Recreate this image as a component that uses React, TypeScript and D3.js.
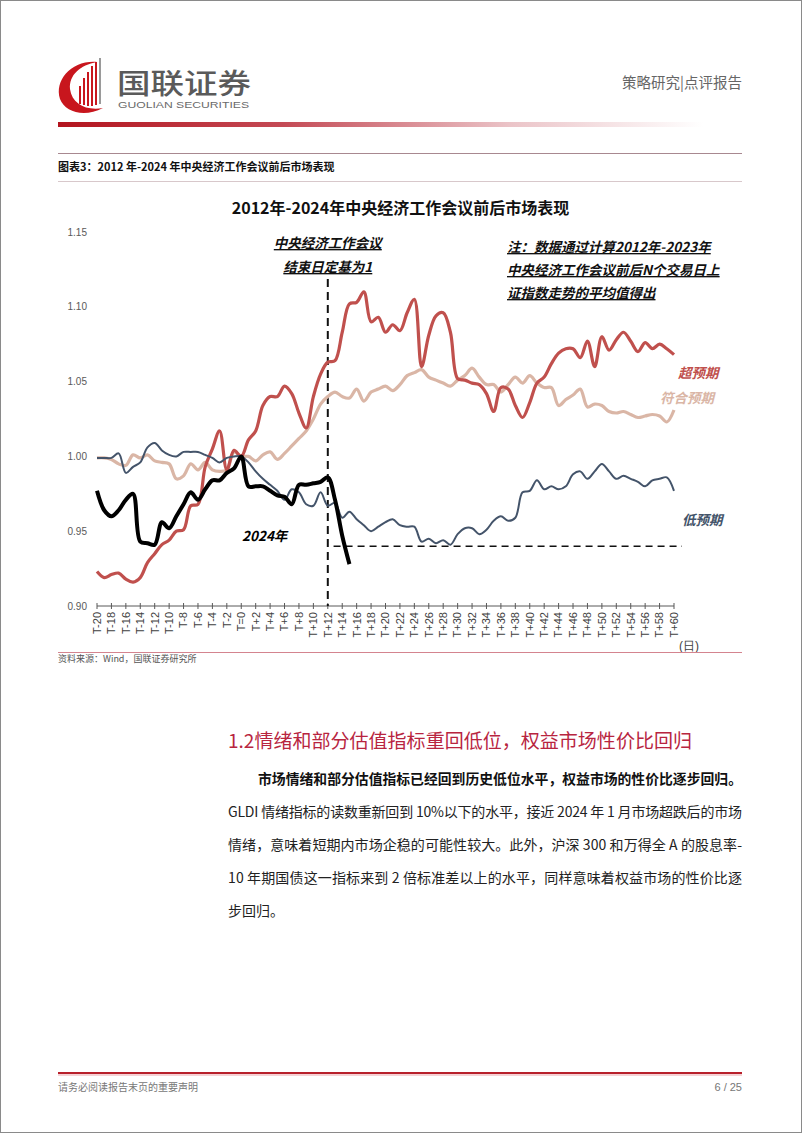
import React from "react";
import * as d3 from "d3";

const tickLabels = ["T-20","T-18","T-16","T-14","T-12","T-10","T-8","T-6","T-4","T-2","T=0","T+2","T+4","T+6","T+8","T+10","T+12","T+14","T+16","T+18","T+20","T+22","T+24","T+26","T+28","T+30","T+32","T+34","T+36","T+38","T+40","T+42","T+44","T+46","T+48","T+50","T+52","T+54","T+56","T+58","T+60"];
const tickDays = [-20,-18,-16,-14,-12,-10,-8,-6,-4,-2,0,2,4,6,8,10,12,14,16,18,20,22,24,26,28,30,32,34,36,38,40,42,44,46,48,50,52,54,56,58,60];
const yTicks = [0.90, 0.95, 1.00, 1.05, 1.10, 1.15];
const firstDay = -20;

const exceed = [0.923,0.919,0.921,0.922,0.918,0.916,0.919,0.929,0.935,0.941,0.944,0.950,0.951,0.967,0.968,0.993,1.005,1.017,0.991,1.004,1.000,
1.011,1.017,1.034,1.040,1.040,1.047,1.042,1.029,1.019,1.040,1.055,1.063,1.064,1.083,1.102,1.103,1.110,1.090,1.093,1.083,
1.088,1.084,1.096,1.105,1.060,1.081,1.094,1.096,1.083,1.052,1.051,1.049,1.048,1.042,1.030,1.046,1.045,1.034,1.026,1.036,
1.049,1.053,1.062,1.069,1.072,1.072,1.066,1.077,1.060,1.080,1.071,1.078,1.083,1.077,1.070,1.076,1.072,1.075,1.072,1.068];

const meet = [0.999,0.999,0.998,0.995,0.994,1.001,0.999,1.001,0.997,0.996,0.995,0.985,0.987,0.995,0.991,0.996,0.991,0.990,0.991,1.003,1.000,
1.000,0.997,1.001,1.003,0.998,1.002,1.007,1.012,1.017,1.025,1.035,1.040,1.043,1.040,1.039,1.045,1.037,1.043,1.045,1.047,
1.044,1.048,1.054,1.056,1.058,1.053,1.051,1.049,1.047,1.051,1.054,1.059,1.053,1.048,1.048,1.043,1.048,1.053,1.049,1.054,
1.049,1.046,1.046,1.034,1.038,1.041,1.045,1.033,1.035,1.034,1.030,1.029,1.030,1.028,1.026,1.027,1.028,1.027,1.023,1.031];

const below = [0.999,0.999,0.999,1.002,0.989,0.993,0.996,1.006,1.009,1.004,1.001,1.000,1.003,1.003,1.003,1.001,0.999,0.996,0.999,1.000,1.000,
0.996,0.990,0.985,0.981,0.977,0.971,0.978,0.976,0.968,0.967,0.976,0.967,0.969,0.959,0.963,0.958,0.954,0.950,0.953,0.956,
0.958,0.954,0.953,0.953,0.943,0.945,0.942,0.944,0.941,0.948,0.952,0.952,0.948,0.951,0.957,0.960,0.957,0.959,0.976,0.977,
0.984,0.978,0.980,0.978,0.980,0.988,0.990,0.985,0.990,0.995,0.990,0.985,0.987,0.985,0.983,0.980,0.984,0.985,0.986,0.977];

const y2024 = [0.977,0.964,0.960,0.964,0.971,0.975,0.943,0.942,0.941,0.956,0.952,0.960,0.968,0.976,0.971,0.978,0.984,0.984,0.989,0.992,1.000,
0.980,0.980,0.980,0.977,0.974,0.973,0.968,0.981,0.981,0.982,0.983,0.986,0.971,0.947,0.928];

const baseDay = 12;
const refLevel = 0.94;

const bodyLines = [
  "市场情绪和部分估值指标已经回到历史低位水平，权益市场的性价比逐步回归。",
  "GLDI 情绪指标的读数重新回到 10%以下的水平，接近 2024 年 1 月市场超跌后的市场",
  "情绪，意味着短期内市场企稳的可能性较大。此外，沪深 300 和万得全 A 的股息率-",
  "10 年期国债这一指标来到 2 倍标准差以上的水平，同样意味着权益市场的性价比逐",
  "步回归。",
];

const CJK = "'Noto Sans CJK SC', 'Noto Sans', sans-serif";
const LAT = "'Liberation Sans', Arial, sans-serif";

export default function App() {
  const x = d3.scaleLinear().domain([-20, 60]).range([97, 674]);
  const y = d3.scaleLinear().domain([0.9, 1.15]).range([606, 232]);
  const line = d3
    .line<number>()
    .x((_, i) => x(firstDay + i))
    .y((v) => y(v))
    .curve(d3.curveCatmullRom.alpha(0.5));

  const red = "#C0504D";
  const tan = "#DAB6A6";
  const slate = "#44546A";

  return (
    <svg width={802} height={1133} style={{ position: "absolute", left: 0, top: 0, background: "#fff" }}>
      <defs>
        <linearGradient id="hdr" x1="0" x2="1" y1="0" y2="0">
          <stop offset="0" stopColor="#B3141E" />
          <stop offset="0.35" stopColor="#C44A55" />
          <stop offset="0.7" stopColor="#EBC4C8" />
          <stop offset="1" stopColor="#FFFFFF" />
        </linearGradient>
      </defs>
      <rect x={0.5} y={0.5} width={801} height={1132} fill="#fff" stroke="#8a8a8a" />

      {/* Logo */}
      <g>
        <path d="M97 62 C72 60 54 80 60 99 C65 112 84 118 103 108 C86 111 72 104 70 89 C69 75 80 65 97 62 Z" fill="#C8161D" />
        <path d="M80 104 L80 86 M84 105 L84 78 M88 106 L88 72 M92 106 L92 66 M96 105 L96 62" stroke="#C8161D" strokeWidth={2} />
        <path d="M100 104 L100 58" stroke="#9a9a9a" strokeWidth={2} />
      </g>
      <text x={117} y={94} fontFamily={CJK} fontSize={28} fontWeight={500} fill="#5a5a5a" textLength={134} lengthAdjust="spacingAndGlyphs">国联证券</text>
      <text x={118} y={108} fontFamily={LAT} fontSize={8.5} fill="#6a6a6a" textLength={131} lengthAdjust="spacingAndGlyphs">GUOLIAN SECURITIES</text>
      <text x={742} y={88} textAnchor="end" fontFamily={CJK} fontSize={14.5} fill="#666">策略研究|点评报告</text>
      <rect x={58} y={122} width={645} height={5} fill="url(#hdr)" />

      {/* caption */}
      <line x1={58} x2={742} y1={153.5} y2={153.5} stroke="#A88890" strokeWidth={1} />
      <text x={58} y={171} fontFamily={CJK} fontSize={11} fontWeight={700} fill="#111">图表3：2012 年-2024 年中央经济工作会议前后市场表现</text>
      <line x1={58} x2={742} y1={181.5} y2={181.5} stroke="#D8C8CB" strokeWidth={1} />

      {/* chart title */}
      <text x={400.5} y={214} textAnchor="middle" fontFamily={CJK} fontSize={16} fontWeight={700} fill="#111">2012年-2024年中央经济工作会议前后市场表现</text>

      {/* y labels */}
      {yTicks.map((t) => (
        <text key={t} x={87} y={y(t)} dy="0.35em" textAnchor="end" fontFamily={LAT} fontSize={10} fill="#595959">
          {t.toFixed(2)}
        </text>
      ))}

      {/* x axis */}
      <line x1={x(-20)} x2={x(60)} y1={y(0.9)} y2={y(0.9)} stroke="#595959" strokeWidth={1} />
      {tickDays.map((d, i) => (
        <g key={d}>
          <line x1={x(d)} x2={x(d)} y1={y(0.9) - 3} y2={y(0.9) + 3} stroke="#595959" />
          <text
            transform={`translate(${x(d)},${y(0.9) + 6}) rotate(-90)`}
            textAnchor="end"
            dy="0.35em"
            fontFamily={LAT}
            fontSize={11}
            fill="#404040"
          >
            {tickLabels[i]}
          </text>
        </g>
      ))}
      <text x={679} y={650} fontFamily={LAT} fontSize={12} fill="#404040">(日)</text>

      {/* reference lines */}
      <line x1={x(baseDay)} x2={x(baseDay)} y1={279} y2={y(0.9)} stroke="#111" strokeWidth={2} strokeDasharray="8,5" />
      <line x1={x(12.8)} x2={682} y1={y(refLevel)} y2={y(refLevel)} stroke="#111" strokeWidth={1.5} strokeDasharray="7,5" />

      {/* series */}
      <path d={line(meet) || ""} fill="none" stroke={tan} strokeWidth={3.2} />
      <path d={line(exceed) || ""} fill="none" stroke={red} strokeWidth={3.2} />
      <path d={line(below) || ""} fill="none" stroke={slate} strokeWidth={2} />
      <path d={line(y2024) || ""} fill="none" stroke="#000" strokeWidth={4} />

      {/* annotations */}
      <g fontFamily={CJK} fontWeight={700} fontStyle="italic" fontSize={13.5} fill="#111" textDecoration="underline">
        <text x={x(baseDay)} y={248} textAnchor="middle">中央经济工作会议</text>
        <text x={x(baseDay)} y={272} textAnchor="middle">结束日定基为1</text>
        <text x={507} y={252}>注：数据通过计算2012年-2023年</text>
        <text x={507} y={275}>中央经济工作会议前后N个交易日上</text>
        <text x={507} y={298}>证指数走势的平均值得出</text>
      </g>
      <g fontFamily={CJK} fontWeight={700} fontStyle="italic" fontSize={13.5}>
        <text x={678} y={378} fill={red}>超预期</text>
        <text x={660} y={403} fill={tan}>符合预期</text>
        <text x={682} y={525} fill={slate}>低预期</text>
        <text x={242} y={541} fill="#000">2024年</text>
      </g>

      {/* source */}
      <line x1={58} x2={742} y1={652.5} y2={652.5} stroke="#D4848F" strokeWidth={1} />
      <text x={58} y={662} fontFamily={CJK} fontSize={9} fill="#555">资料来源：Wind，国联证券研究所</text>

      {/* section */}
      <text x={228} y={748} fontFamily={CJK} fontSize={19} fill="#B8253F" textLength={464} lengthAdjust="spacingAndGlyphs">1.2情绪和部分估值指标重回低位，权益市场性价比回归</text>
      <text x={258} y={784} fontFamily={CJK} fontSize={14} fontWeight={700} fill="#111" textLength={484} lengthAdjust="spacingAndGlyphs">{bodyLines[0]}</text>
      {bodyLines.slice(1).map((t, i) => (
        <text
          key={i}
          x={228}
          y={817 + i * 33}
          fontFamily={CJK}
          fontSize={14}
          fill="#222"
          {...(i < 3 ? { textLength: 514, lengthAdjust: "spacing" } : {})}
        >
          {t}
        </text>
      ))}

      {/* footer */}
      <line x1={58} x2={742} y1={1073} y2={1073} stroke="#B8202B" strokeWidth={2} />
      <line x1={58} x2={742} y1={1075} y2={1075} stroke="#EBA5AB" strokeWidth={1} />
      <text x={58} y={1091} fontFamily={CJK} fontSize={10} fill="#777">请务必阅读报告末页的重要声明</text>
      <text x={742} y={1091} textAnchor="end" fontFamily={LAT} fontSize={11} fill="#777">6 / 25</text>
    </svg>
  );
}
